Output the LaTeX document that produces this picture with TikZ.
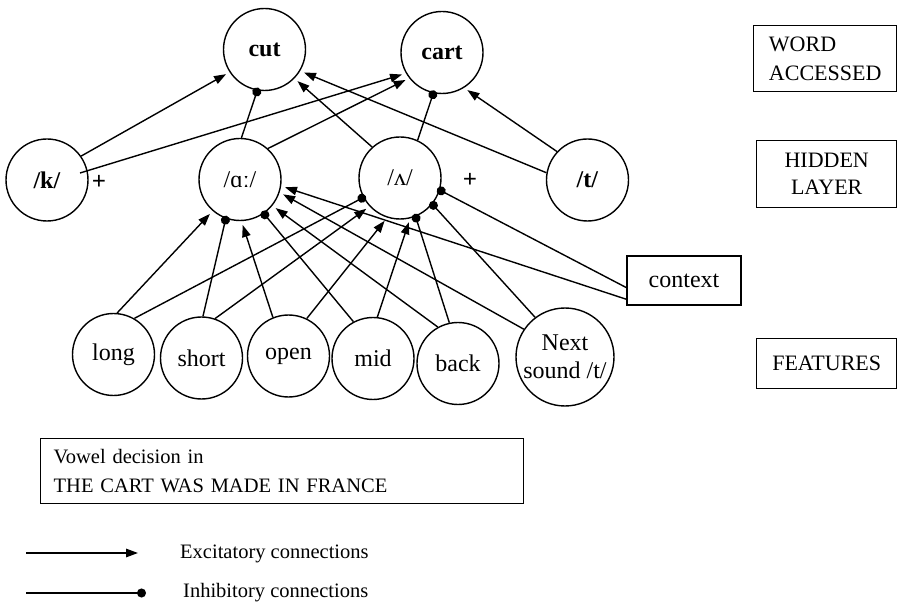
\documentclass[tikz,border=0pt]{standalone}
\usepackage{fontspec}
\setmainfont{Liberation Serif}
\usetikzlibrary{arrows.meta}
\begin{document}
\begin{tikzpicture}[x=1pt,y=-1pt,
  unit/.style={circle, draw, line width=1.4pt, minimum size=82pt, inner sep=0pt,
    align=center, font=\fontsize{24}{28}\selectfont},
  boxed/.style={draw, line width=1.4pt, inner sep=0pt, align=center},
  exc/.style={line width=1.4pt, -{Triangle[length=12pt,width=8.5pt]}, shorten >=4pt},
  inh/.style={line width=1.4pt, -{Circle[length=9pt]}, shorten >=-3pt},
  sign/.style={font=\fontsize{25}{25}\selectfont\bfseries, inner sep=0pt},
  legendtext/.style={anchor=base west, inner sep=0pt, font=\fontsize{20.5}{24}\selectfont}
]
\useasboundingbox (0,0) rectangle (897,612);

% word layer
\node[unit] (cut)  at (264.5,49.5) {\textbf{cut}};
\node[unit] (cart) at (442,52.5)   {\textbf{cart}};

% hidden layer
\node[unit] (k)  at (47,180)    {\textbf{/k/}};
\node[unit] (aa) at (240,179.5) {/ɑː/};
\node[unit] (uh) at (400,178)   {/ʌ/};
\node[unit] (t)  at (587.5,180) {\textbf{/t/}};
\node[sign] (plusk)  at (99,182)  {+};
\node[sign] (plusuh) at (470,180) {+};

% feature layer
\node[unit] (long)  at (113.5,354.5) {long};
\node[unit] (short) at (201.5,358)   {short};
\node[unit] (open)  at (288.5,356)   {open};
\node[unit] (mid)   at (373,358.5)   {mid};
\node[unit] (back)  at (458,363.5)   {back};
\node[unit, minimum size=98pt] (next) at (565,357) {Next\\sound /t/};

\node[boxed, minimum width=114pt, minimum height=49pt, font=\fontsize{24}{28}\selectfont]
  (context) at (684,280.5) {context};

% layer captions
\node[boxed, anchor=north west, minimum width=143pt, minimum height=66pt, align=left,
  font=\fontsize{22}{29}\selectfont] (capword) at (753,25) {WORD\\ACCESSED};
\node[boxed, anchor=north west, minimum width=140pt, minimum height=67pt,
  font=\fontsize{22}{27}\selectfont] (caphidden) at (756,140) {HIDDEN\\LAYER};
\node[boxed, anchor=north west, minimum width=140pt, minimum height=50pt,
  font=\fontsize{22}{27}\selectfont] (capfeat) at (756,338) {FEATURES};

% sentence box
\node[boxed, anchor=north west, inner xsep=13pt, text width=457pt, minimum height=65pt,
  align=left, font=\fontsize{20.5}{29}\selectfont] (sentence) at (40,438)
  {Vowel decision in\\THE CART WAS MADE IN FRANCE};

% hidden -> word connections
\draw[exc] (k.35.5) -- (cut.-147.2);
\draw[exc] ([xshift=33pt,yshift=7pt]k.center) -- (cart.-150.6);
\draw[exc] (aa.48.6) -- (cart.-142.6);
\draw[inh] (aa.88.6) -- (cut.-100.5);
\draw[exc] (uh.132) -- (cut.-44.1);
\draw[exc] (t.170.2) -- (cut.-31.6);
\draw[inh] (uh.65.9) -- (cart.-102);
\draw[exc] (t.137.5) -- (cart.-58.4);

% feature -> hidden connections
\draw[exc] (long.85.2) -- (aa.-131.4);
\draw[inh] (long.60.2) -- (uh.-152.2);
\draw[inh] (short.88) -- (aa.-110.6);
\draw[exc] (short.71.8) -- (uh.-137.8);
\draw[exc] (open.112.2) -- (aa.-88.7);
\draw[exc] (open.64.1) -- (uh.-108);
\draw[inh] (mid.118.7) -- (aa.-55.9);
\draw[exc] (mid.84.5) -- (uh.-76.3);
\draw[exc] (back.119.6) -- (aa.-39);
\draw[inh] (back.102.5) -- (uh.-68.2);
\draw[exc] (next.146.9) -- (aa.-18.6);
\draw[inh] (next.127.3) -- (uh.-39.5);

% context connections
\draw[inh] (context.187.5) -- (uh.-17);
\draw[exc] (context.198.4) -- (aa.-9.2);

% legend
\coordinate (exa) at (26,553);
\coordinate (exb) at (138,553);
\coordinate (ina) at (26,593);
\coordinate (inb) at (146,593);
\draw[line width=1.4pt, -{Triangle[length=12pt,width=8.5pt]}] (exa) -- (exb);
\draw[line width=1.4pt, -{Circle[length=9pt]}] (ina) -- (inb);
\node[legendtext] (exlabel) at (180,558) {Excitatory connections};
\node[legendtext] (inlabel) at (183,597) {Inhibitory connections};
\end{tikzpicture}
\end{document}
